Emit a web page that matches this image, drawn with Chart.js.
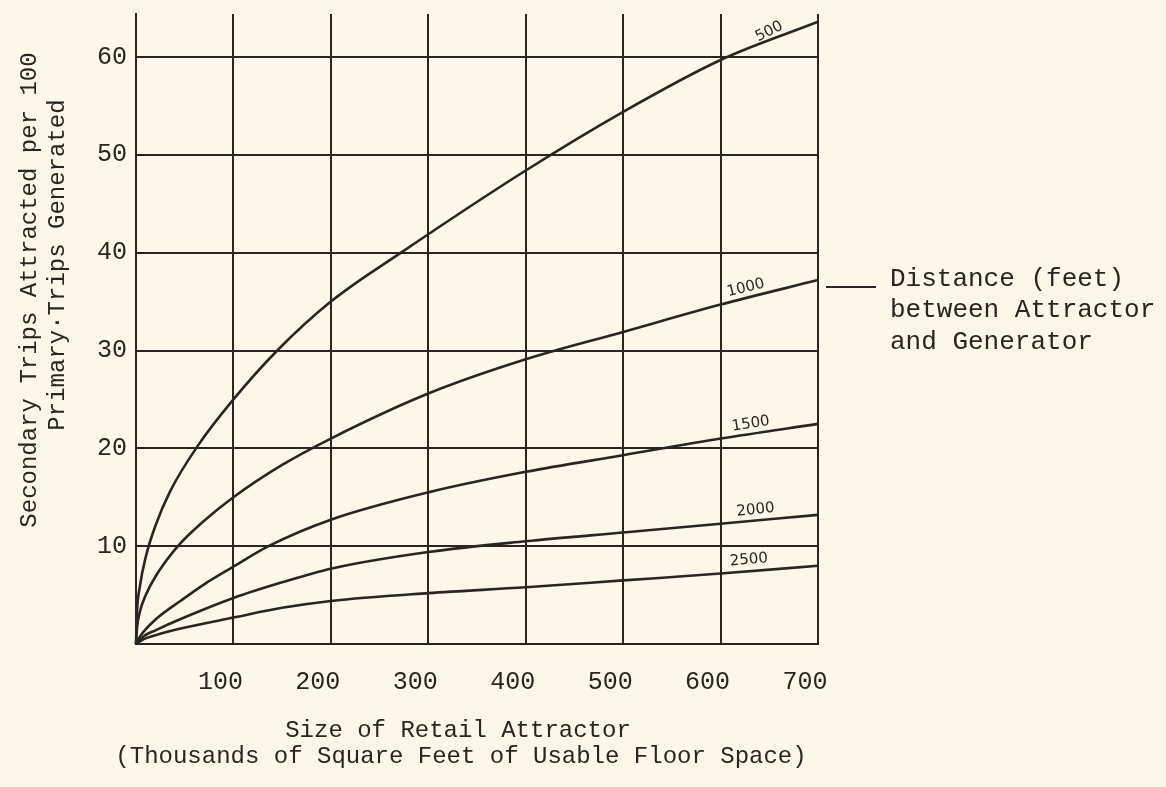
<!DOCTYPE html>
<html>
<head>
<meta charset="utf-8">
<script src="https://cdn.jsdelivr.net/npm/chart.js@4.4.1/dist/chart.umd.min.js"></script>
<style>
  html, body { margin: 0; padding: 0; background: #fcf8e9; overflow: hidden; }
  #wrap { width: 1166px; height: 787px; position: relative; }
</style>
</head>
<body>
<div id="wrap"><canvas id="c"></canvas></div>
<script>
// ---- Data ----
const distances = ['500', '1000', '1500', '2000', '2500'];

const size500  = [0, 1, 4, 10, 20, 35, 63, 100, 145, 200, 272, 400, 500, 600, 700];
const trips500 = [0, 3.2, 5.9, 8.9, 12.1, 15.6, 20.2, 25, 30, 35, 40, 48.4, 54.4, 59.7, 63.6];

const size1000  = [0, 1, 4, 10, 20, 43, 70, 100, 150, 200, 300, 400, 500, 600, 700];
const trips1000 = [0, 1.6, 3.3, 5.0, 6.9, 10, 12.6, 15, 18.3, 21, 25.6, 29.1, 31.9, 34.7, 37.2];

const size1500  = [0, 5, 20, 47, 70, 100, 136, 200, 300, 400, 500, 600, 700];
const trips1500 = [0, 0.9, 2.5, 4.5, 6.1, 7.9, 10, 12.7, 15.5, 17.6, 19.3, 21.0, 22.5];

const size2000  = [0, 8, 20, 47, 100, 150, 200, 300, 400, 500, 600, 700];
const trips2000 = [0, 0.8, 1.4, 2.6, 4.7, 6.3, 7.7, 9.4, 10.5, 11.4, 12.3, 13.2];

const size2500  = [0, 8, 20, 47, 100, 150, 200, 300, 400, 500, 600, 700];
const trips2500 = [0, 0.5, 0.9, 1.6, 2.7, 3.7, 4.4, 5.2, 5.8, 6.5, 7.2, 8.0];

const xTicks = [100, 200, 300, 400, 500, 600, 700];
const yTicks = [10, 20, 30, 40, 50, 60];

const yTitle = ['Secondary Trips Attracted per 100', 'Primary\u00B7Trips Generated'];
const xTitle = ['Size of Retail Attractor', '(Thousands of Square Feet of Usable Floor Space)'];
const noteLines = ['Distance (feet)', 'between Attractor', 'and Generator'];

// curve label anchors (data units) and angle
const curveLabelX = [650, 626, 631, 636, 629];
const curveLabelY = [62.6, 36.4, 22.5, 13.7, 8.6];
const curveLabelAngle = [-27, -14, -9, -6, -5];

// ---- Build ----
const INK = '#2a2522';
const BG = '#fcf8e9';
const MONO = '"Liberation Mono", "DejaVu Sans Mono", monospace';

function pts(xs, ys) { return xs.map((x, i) => ({ x: x, y: ys[i] })); }
const seriesX = [size500, size1000, size1500, size2000, size2500];
const seriesY = [trips500, trips1000, trips1500, trips2000, trips2500];

const datasets = distances.map((d, i) => ({
  label: d,
  data: pts(seriesX[i], seriesY[i]),
  borderColor: INK,
  borderWidth: 2.6,
  pointRadius: 0,
  fill: false,
  cubicInterpolationMode: 'monotone',
  clip: false
}));

const decor = {
  id: 'decor',
  beforeDraw(chart) {
    const ctx = chart.ctx;
    ctx.save();
    ctx.fillStyle = BG;
    ctx.fillRect(0, 0, chart.width, chart.height);
    ctx.restore();
  },
  afterDraw(chart) {
    const ctx = chart.ctx;
    const xs = chart.scales.x, ys = chart.scales.y;
    ctx.save();
    ctx.fillStyle = INK;
    ctx.strokeStyle = INK;

    // curve labels
    ctx.font = '15px "DejaVu Sans", sans-serif';
    ctx.textAlign = 'center';
    ctx.textBaseline = 'middle';
    distances.forEach((d, i) => {
      const px = xs.getPixelForValue(curveLabelX[i]);
      const py = ys.getPixelForValue(curveLabelY[i]);
      ctx.save();
      ctx.translate(px, py);
      ctx.rotate(curveLabelAngle[i] * Math.PI / 180);
      ctx.fillText(d, 0, 0);
      ctx.restore();
    });

    // y title (rotated)
    ctx.font = '24px ' + MONO;
    ctx.textAlign = 'center';
    ctx.textBaseline = 'alphabetic';
    const yt = [[36, 290], [64, 265]];
    yTitle.forEach((t, i) => {
      ctx.save();
      ctx.translate(yt[i][0], yt[i][1]);
      ctx.rotate(-Math.PI / 2);
      ctx.fillText(t, 0, 0);
      ctx.restore();
    });

    // x title
    ctx.fillText(xTitle[0], 458, 737);
    ctx.fillText(xTitle[1], 461, 763);

    // note at right
    ctx.font = '26px ' + MONO;
    ctx.textAlign = 'left';
    const nb = [286, 317, 349];
    noteLines.forEach((t, i) => ctx.fillText(t, 890, nb[i]));
    ctx.lineWidth = 2;
    ctx.beginPath();
    ctx.moveTo(826, 287);
    ctx.lineTo(876, 287);
    ctx.stroke();
    ctx.restore();
  }
};

new Chart(document.getElementById('c'), {
  type: 'line',
  data: { datasets: datasets },
  plugins: [decor],
  options: {
    responsive: true,
    maintainAspectRatio: false,
    animation: false,
    events: [],
    layout: { padding: { left: 0, right: 348, top: 14, bottom: 0 } },
    plugins: { legend: { display: false }, tooltip: { enabled: false }, title: { display: false } },
    scales: {
      x: {
        type: 'linear',
        min: 0, max: 700,
        afterFit(s) { s.height = 143; s.paddingLeft = 0; s.paddingRight = 0; },
        afterBuildTicks(s) { s.ticks = [0].concat(xTicks).map(v => ({ value: v })); },
        grid: { color: INK, lineWidth: 2, drawTicks: false },
        border: { display: true, color: INK, width: 2 },
        ticks: {
          color: INK,
          font: { family: MONO, size: 25 },
          padding: 23,
          labelOffset: -13,
          maxRotation: 0,
          autoSkip: false,
          callback: (v) => (v === 0 ? '' : String(v))
        }
      },
      y: {
        type: 'linear',
        min: 0, max: 64.4,
        afterFit(s) { s.width = 136; s.paddingTop = 0; s.paddingBottom = 0; },
        afterBuildTicks(s) { s.ticks = [0].concat(yTicks).map(v => ({ value: v })); },
        grid: { color: INK, lineWidth: 2, drawTicks: false },
        border: { display: true, color: INK, width: 2 },
        ticks: {
          color: INK,
          font: { family: MONO, size: 25 },
          padding: 9,
          autoSkip: false,
          callback: (v) => (v === 0 ? '' : String(v))
        }
      }
    }
  }
});
</script>
</body>
</html>
